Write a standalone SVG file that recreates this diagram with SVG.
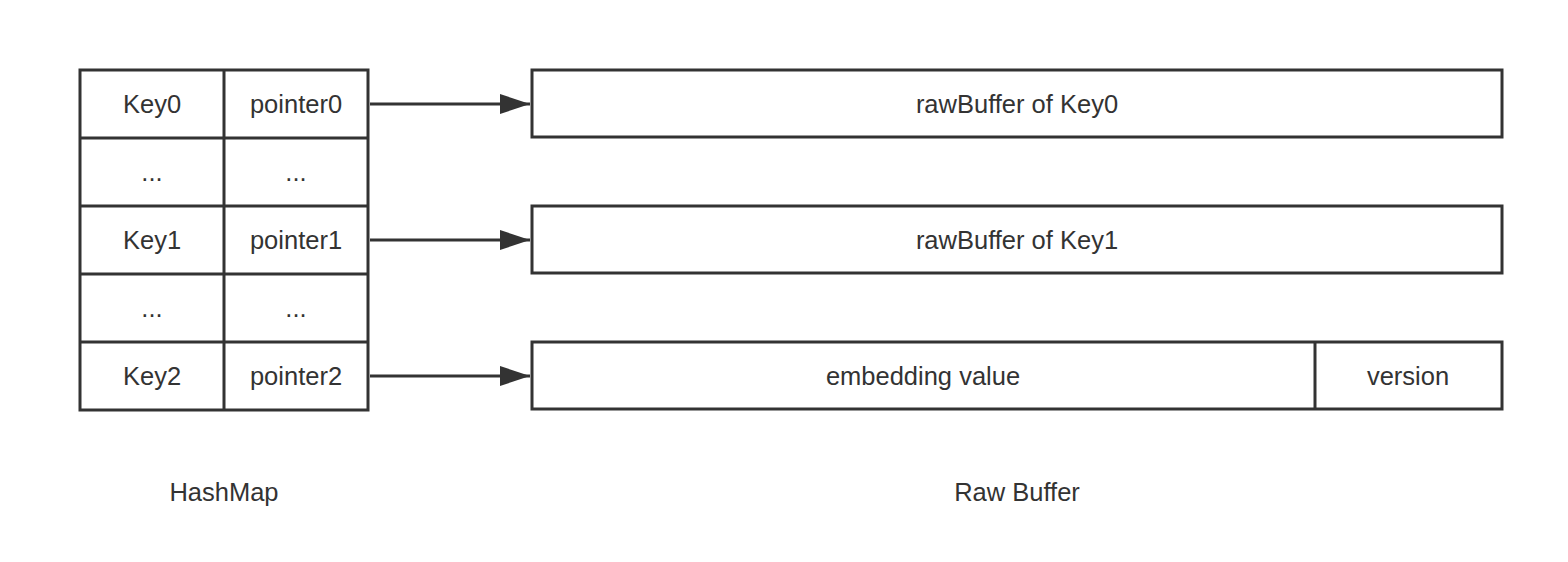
<svg xmlns="http://www.w3.org/2000/svg" width="1568" height="562" viewBox="0 0 1568 562">
<style>
.box{fill:#fff;stroke:#333;stroke-width:3}
.ln{stroke:#333;stroke-width:3;fill:none}
text{font-family:"Liberation Sans",Arial,sans-serif;font-size:25.5px;fill:#333;text-anchor:middle;dominant-baseline:central}
</style>
<defs>
<marker id="arr" markerUnits="userSpaceOnUse" markerWidth="32" markerHeight="22" refX="30" refY="11" orient="auto">
<path d="M0,1 L30,11 L0,21 Z" fill="#333"/>
</marker>
</defs>
<rect width="1568" height="562" fill="#fff"/>
<g id="hashmap">
<rect class="box" x="80" y="70" width="288" height="340"/>
<line class="ln" x1="224" y1="70" x2="224" y2="410"/>
<line class="ln" x1="80" y1="138" x2="368" y2="138"/>
<line class="ln" x1="80" y1="206" x2="368" y2="206"/>
<line class="ln" x1="80" y1="274" x2="368" y2="274"/>
<line class="ln" x1="80" y1="342" x2="368" y2="342"/>
<text x="152" y="104">Key0</text>
<text x="296" y="104">pointer0</text>
<text x="152" y="172">...</text>
<text x="296" y="172">...</text>
<text x="152" y="240">Key1</text>
<text x="296" y="240">pointer1</text>
<text x="152" y="308">...</text>
<text x="296" y="308">...</text>
<text x="152" y="376">Key2</text>
<text x="296" y="376">pointer2</text>
</g>
<g id="buf0">
<rect class="box" x="532" y="70" width="970" height="67"/>
<text x="1017" y="104">rawBuffer of Key0</text>
</g>
<g id="buf1">
<rect class="box" x="532" y="206" width="970" height="67"/>
<text x="1017" y="240">rawBuffer of Key1</text>
</g>
<g id="buf2">
<rect class="box" x="532" y="342" width="970" height="67"/>
<line class="ln" x1="1315" y1="342" x2="1315" y2="409"/>
<text x="923" y="376">embedding value</text>
<text x="1408" y="376">version</text>
</g>
<g id="connectors">
<line class="ln" x1="370" y1="104" x2="530" y2="104" marker-end="url(#arr)"/>
<line class="ln" x1="370" y1="240" x2="530" y2="240" marker-end="url(#arr)"/>
<line class="ln" x1="370" y1="376" x2="530" y2="376" marker-end="url(#arr)"/>
</g>
<g id="labels">
<text x="224" y="492">HashMap</text>
<text x="1017" y="492">Raw Buffer</text>
</g>
</svg>
